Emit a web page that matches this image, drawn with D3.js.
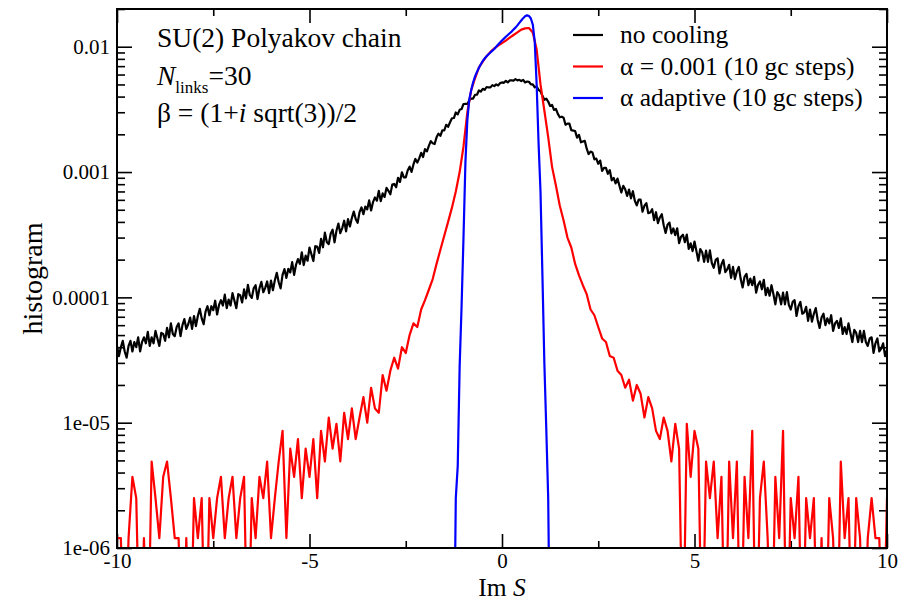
<!DOCTYPE html>
<html>
<head>
<meta charset="utf-8">
<script src="https://cdn.jsdelivr.net/npm/d3@7"></script>
<style>
  body { margin: 0; background: #fff; }
  text { font-family: "Liberation Serif", "Times New Roman", serif; }
</style>
</head>
<body>
<div class="chart"></div>
<script>
// histogram values are stored in units of 1e-6; bin i sits at start + i * width
const valueUnit = 1e-6;

// no cooling: bins of 0.05 from -10 to 10
const noCoolingStart = -10;
const noCoolingWidth = 0.05;
const noCooling = [
  41,34,40,45,37,33,41,45,37,44,
  40,48,37,44,48,43,53,41,48,43,
  54,47,41,52,51,45,57,48,62,51,
  49,58,62,49,60,67,56,61,69,56,
  71,59,71,81,68,61,77,85,72,85,
  79,94,73,87,95,86,105,82,96,86,
  108,94,82,106,104,91,116,98,126,104,
  99,118,125,97,118,133,110,119,134,108,
  136,114,137,157,132,118,151,168,143,169,
  158,191,151,182,202,185,229,181,215,196,
  250,221,195,256,254,226,293,251,328,275,
  266,322,347,275,340,388,325,357,409,336,
  422,368,429,484,422,393,479,522,461,530,
  504,594,494,576,627,591,707,586,675,633,
  747,708,664,794,804,757,900,834,996,908,
  907,1028,1105,1002,1149,1272,1192,1285,1424,1317,
  1524,1462,1617,1765,1696,1674,1892,2026,1944,2148,
  2146,2380,2294,2497,2686,2698,2988,2885,3137,3180,
  3492,3493,3491,3745,3858,3857,4136,4136,4477,4391,
  4616,4530,4771,4731,4738,4939,4849,5005,4912,5121,
  5191,5148,5345,5194,5383,5390,5366,5508,5386,5444,
  5326,5437,5184,5272,5253,5009,5010,4743,4814,4524,
  4398,4056,3773,3846,3654,3367,3430,3131,3188,2912,
  2735,2765,2711,2382,2434,2434,2161,2143,2122,1882,
  1981,1728,1754,1774,1536,1391,1457,1433,1263,1281,
  1164,1235,1021,1079,1078,968,1036,859,897,811,
  886,779,686,775,729,644,724,617,703,590,
  542,602,602,482,538,564,469,476,505,413,
  478,391,434,461,376,327,380,395,324,355,
  314,356,271,305,316,276,317,244,270,234,
  279,234,196,243,229,192,236,192,237,188,
  172,199,205,155,183,199,159,167,182,143,
  175,140,161,175,140,120,146,154,125,141,
  125,146,109,126,134,116,138,104,119,103,
  125,106,88,110,104,88,109,88,110,87,
  80,92,95,71,85,92,74,76,84,65,
  80,64,74,82,66,57,69,74,60,68,
  62,72,54,62,65,57,68,51,58,51,
  62,52,44,55,52,44,54,44,54,44,
  41,47,48,36,43,47,37,39,43,34,
  38
];

// alpha = 0.001: bins of 0.1 from -10 to 10
const alphaFixedStart = -10;
const alphaFixedWidth = 0.1;
const alpha001 = [
  1.2,1.2,0,1.2,3.7,2.5,0,1.2,0,4.9,2.5,
  1.2,3.7,4.9,2.5,1.2,1.2,0,1.2,0,2.5,
  1.2,2.5,0,2.5,1.2,2.5,3.7,1.2,2.5,3.7,
  1.2,2.5,3.7,0,2.5,1.2,3.7,2.5,4.9,1.2,
  2.5,4.9,8.6,1.2,6.2,3.7,7.4,2.5,6.2,3.7,
  7.4,2.5,8.6,4.9,11,6.2,9.8,4.9,12,7.4,
  13,7.4,11,16,10,19,13,12,24,18,
  26,33,27,40,36,50,62,58,80,95,
  115,140,185,240,310,400,520,700,1000,1600,
  3000,4500,5600,6800,7600,8400,9100,9700,10200,10700,
  11200,11800,12400,13000,13700,14000,14100,13000,9500,5000,
  3100,1900,1100,780,540,410,300,250,185,150,
  125,106,80,72,58,47,44,34,33,26,
  24,19,22,15,20,17,11,16,13,8.6,
  7.4,11,8.6,4.9,9.8,6.2,0,9.8,3.7,8.6,
  6.2,0,4.9,2.5,4.9,1.2,3.7,0,4.9,1.2,
  4.9,0,3.7,1.2,8.6,0,2.5,4.9,1.2,0,
  3.7,1.2,8.6,0,2.5,1.2,3.7,0,2.5,1.2,
  2.5,0,1.2,0,2.5,1.2,0,4.9,1.2,2.5,
  0,2.5,1.2,0,1.2,2.5,1.2,1.2,0,2.5
];

// alpha adaptive: only the central region, bins of 0.05 from -1.3 to 1.3
const alphaAdaptiveStart = -1.3;
const alphaAdaptiveWidth = 0.05;
const alphaAdaptive = [
  0,0,2.5,4.5,28,85,300,1200,2600,3800,
  4500,5200,5800,6300,6800,7250,7700,8050,8400,8700,
  9000,9300,9600,10000,10400,10800,
  11200,11600,12000,12400,12800,13200,13700,14200,14800,15500,
  16200,16900,17500,17800,17600,16800,15000,11000,5000,1700,
  700,150,30,9,2.5,0,0
];

const xTicks = [-10, -5, 0, 5, 10];
const xMinorTicks = [-7.5, -2.5, 2.5, 7.5];
const yTicks = [1e-6, 1e-5, 1e-4, 1e-3, 1e-2];
const yTickLabels = ["1e-06", "1e-05", "0.0001", "0.001", "0.01"];
const legendLabels = ["no cooling", "\u03b1 = 0.001 (10 gc steps)", "\u03b1 adaptive (10 gc steps)"];
const seriesColors = ["#000000", "#ff0000", "#0000ff"];

const W = 907, H = 601;
const margin = {top: 9, right: 20, bottom: 53, left: 117};
const width = W - margin.left - margin.right;
const height = H - margin.top - margin.bottom;

const svg = d3.select(".chart")
    .append("svg")
    .attr("width", W)
    .attr("height", H);

const g = svg.append("g")
    .attr("transform", `translate(${margin.left},${margin.top})`);

const x = d3.scaleLinear()
    .domain([-10, 10])
    .range([0, width]);

const y = d3.scaleLog()
    .domain([1e-6, 0.02])
    .range([height, 0]);

// minor log ticks 2..9 per decade
const yMinorTicks = [];
yTicks.forEach(t => {
    for (let k = 2; k <= 9; k++) {
        const v = t * k;
        if (v <= 0.02 * 1.0001) yMinorTicks.push(v);
    }
});

function styleAxis(sel){
    sel.select(".domain").remove();
    sel.selectAll(".tick line")
        .attr("stroke", "#000")
        .attr("stroke-width", 1.6);
    sel.selectAll("text")
        .attr("fill", "#000")
        .style("font-size", "21px");
}

// bottom
g.append("g")
    .attr("transform", `translate(0,${height})`)
    .call(d3.axisBottom(x).tickValues(xTicks).tickSize(-14).tickSizeOuter(0)
        .tickPadding(5.5).tickFormat(d => String(d)))
    .call(styleAxis);

g.append("g")
    .attr("transform", `translate(0,${height})`)
    .call(d3.axisBottom(x).tickValues(xMinorTicks).tickSize(-7).tickSizeOuter(0).tickFormat(""))
    .call(styleAxis);

// top
g.append("g")
    .call(d3.axisTop(x).tickValues(xTicks).tickSize(-14).tickSizeOuter(0).tickFormat(""))
    .call(styleAxis);

g.append("g")
    .call(d3.axisTop(x).tickValues(xMinorTicks).tickSize(-7).tickSizeOuter(0).tickFormat(""))
    .call(styleAxis);

// left
g.append("g")
    .call(d3.axisLeft(y).tickValues(yTicks).tickSize(-15).tickSizeOuter(0)
        .tickPadding(7).tickFormat((d, i) => yTickLabels[i]))
    .call(styleAxis);

g.append("g")
    .call(d3.axisLeft(y).tickValues(yMinorTicks).tickSize(-8).tickSizeOuter(0).tickFormat(""))
    .call(styleAxis);

// right
g.append("g")
    .attr("transform", `translate(${width},0)`)
    .call(d3.axisRight(y).tickValues(yTicks).tickSize(-15).tickSizeOuter(0).tickFormat(""))
    .call(styleAxis);

g.append("g")
    .attr("transform", `translate(${width},0)`)
    .call(d3.axisRight(y).tickValues(yMinorTicks).tickSize(-8).tickSizeOuter(0).tickFormat(""))
    .call(styleAxis);

// data
g.append("clipPath")
    .attr("id", "plot-clip")
    .append("rect")
    .attr("width", width)
    .attr("height", height);

const series = [
    {values: noCooling, start: noCoolingStart, step: noCoolingWidth},
    {values: alpha001, start: alphaFixedStart, step: alphaFixedWidth},
    {values: alphaAdaptive, start: alphaAdaptiveStart, step: alphaAdaptiveWidth}
];

// empty bins drop below the axis, the clip cuts them at the frame
const line = s => d3.line()
    .x((d, i) => x(s.start + i * s.step))
    .y(d => y(Math.max(d * valueUnit, 1e-7)));

g.append("g")
    .attr("clip-path", "url(#plot-clip)")
    .selectAll("path")
    .data(series)
    .enter()
    .append("path")
    .attr("d", s => line(s)(s.values))
    .attr("fill", "none")
    .attr("stroke", (s, i) => seriesColors[i])
    .attr("stroke-width", 2.2)
    .attr("stroke-linejoin", "round");

// frame
g.append("rect")
    .attr("width", width)
    .attr("height", height)
    .attr("fill", "none")
    .attr("stroke", "#000")
    .attr("stroke-width", 2);

// axis titles
svg.append("text")
    .attr("x", margin.left + x(0))
    .attr("y", 595.5)
    .attr("text-anchor", "middle")
    .style("font-size", "25.5px")
    .html('Im <tspan font-style="italic">S</tspan>');

svg.append("text")
    .attr("transform", `translate(42,${margin.top + height / 2}) rotate(-90)`)
    .attr("text-anchor", "middle")
    .style("font-size", "28px")
    .text("histogram");

// annotation
const note = svg.append("g")
    .style("font-size", "27.5px");

note.append("text")
    .attr("x", 157).attr("y", 47)
    .text("SU(2) Polyakov chain");

note.append("text")
    .attr("x", 157).attr("y", 85)
    .html('<tspan font-style="italic">N</tspan><tspan dy="8" style="font-size:17px">links</tspan><tspan dy="-8">=30</tspan>');

note.append("text")
    .attr("x", 157).attr("y", 122)
    .html('\u03b2 = (1+<tspan font-style="italic">i</tspan> sqrt(3))/2');

// legend
const legend = svg.append("g")
    .style("font-size", "25.5px");

legendLabels.forEach((label, i) => {
    const ly = 35 + i * 31.5;
    legend.append("line")
        .attr("x1", 573).attr("x2", 603)
        .attr("y1", ly).attr("y2", ly)
        .attr("stroke", seriesColors[i])
        .attr("stroke-width", 2.2);
    legend.append("text")
        .attr("x", 620)
        .attr("y", ly + 8)
        .text(label);
});
</script>
</body>
</html>
